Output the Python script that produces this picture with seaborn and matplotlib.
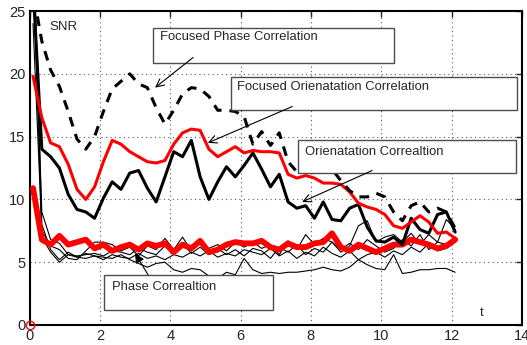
import matplotlib
matplotlib.use("Agg")
import matplotlib.pyplot as plt
import seaborn as sns
from matplotlib.patches import Rectangle

# sample times (s)
time = [0.1, 0.35, 0.6, 0.85, 1.1, 1.35, 1.6, 1.85, 2.1, 2.35, 2.6, 2.85, 3.1,
        3.35, 3.6, 3.85, 4.1, 4.35, 4.6, 4.85, 5.1, 5.35, 5.6, 5.85, 6.1,
        6.35, 6.6, 6.85, 7.1, 7.35, 7.6, 7.85, 8.1, 8.35, 8.6, 8.85, 9.1,
        9.35, 9.6, 9.85, 10.1, 10.35, 10.6, 10.85, 11.1, 11.35, 11.6, 11.85, 12.1]

# focused phase correlation (dashed)
focused_phase = [26.5, 22.6, 20.3, 19.0, 17.0, 14.8, 14.0, 15.0, 17.0, 18.8, 19.4, 20.0, 19.2,
                 18.9, 17.3, 16.0, 17.1, 18.4, 18.9, 18.8, 18.2, 17.1, 17.1, 17.0, 16.6,
                 14.4, 15.4, 14.3, 15.3, 13.0, 12.2, 12.4, 12.2, 12.6, 12.4, 11.5, 10.7,
                 10.2, 10.2, 10.5, 10.2, 9.0, 8.3, 9.5, 9.8, 9.0, 9.3, 9.0, 7.7]

# focused orientation correlation (red)
focused_orient = [19.8, 16.5, 14.5, 14.2, 12.8, 10.8, 10.0, 11.0, 13.0, 14.7, 14.4, 13.8, 13.4,
                  13.0, 12.9, 13.1, 14.4, 15.3, 15.6, 15.5, 14.0, 13.4, 13.8, 14.2, 13.7,
                  13.9, 13.8, 13.8, 13.7, 12.0, 11.7, 11.9, 11.7, 11.3, 11.3, 11.2, 10.6,
                  9.7, 9.4, 9.2, 8.8, 7.9, 7.7, 8.2, 8.7, 8.2, 7.3, 7.4, 6.9]

# orientation correlation (thick black)
orient = [27.0, 14.0, 13.4, 12.5, 10.4, 9.2, 9.0, 8.5, 10.1, 11.4, 10.8, 12.1, 12.3,
          10.9, 9.8, 11.8, 13.8, 13.4, 14.7, 11.8, 10.0, 11.4, 12.6, 11.8, 12.7,
          13.7, 12.4, 11.0, 12.0, 9.8, 9.3, 9.5, 8.5, 9.8, 8.4, 8.3, 9.3,
          9.6, 7.8, 6.7, 6.6, 7.0, 6.4, 8.5, 7.6, 7.3, 8.8, 9.0, 7.4]

# phase correlation (thick red)
phase_mean = [10.9, 6.8, 6.4, 7.1, 6.4, 6.6, 6.8, 6.1, 6.4, 5.9, 6.2, 6.4, 6.0,
              6.5, 6.3, 6.5, 5.8, 6.4, 6.1, 6.7, 5.8, 6.0, 6.4, 6.6, 6.5,
              6.5, 6.7, 6.2, 6.0, 6.5, 6.2, 6.2, 6.5, 6.6, 7.3, 6.2, 5.9,
              6.4, 6.1, 5.8, 6.1, 6.4, 6.4, 6.8, 6.6, 6.4, 6.1, 6.3, 6.8]

# individual phase correlation runs (thin black)
phase_runs = {
    "run1": [24.0, 7.5, 6.3, 6.0, 5.3, 5.2, 5.9, 6.6, 6.6, 6.4, 5.9, 6.2, 5.5,
             6.3, 6.0, 6.9, 6.0, 7.0, 5.9, 6.6, 6.1, 6.4, 5.9, 6.6, 6.2,
             6.6, 6.1, 6.4, 5.6, 6.7, 6.0, 7.2, 6.4, 6.9, 6.6, 5.8, 6.3,
             7.9, 8.3, 6.6, 7.0, 7.2, 6.6, 7.3, 6.4, 7.2, 6.6, 8.4, 7.6],
    "run2": [30.0, 9.0, 6.8, 6.5, 5.6, 5.5, 5.6, 5.7, 5.5, 5.9, 5.8, 5.6, 6.1,
             5.8, 5.6, 6.3, 5.9, 6.5, 5.7, 6.2, 5.6, 6.1, 5.6, 6.0, 5.5,
             6.1, 5.9, 5.3, 6.2, 5.8, 6.4, 5.6, 6.1, 5.8, 6.6, 6.0, 6.5,
             6.0, 6.8, 6.3, 5.8, 6.1, 6.8, 6.3, 7.2, 6.0, 6.6, 6.4, 7.0],
    "run3": [32.0, 8.0, 6.0, 5.2, 5.8, 5.4, 5.3, 5.5, 5.2, 5.6, 5.4, 5.3, 5.7,
             5.3, 5.5, 5.2, 5.6, 5.4, 5.8, 5.5, 5.9, 5.4, 5.7, 5.5, 6.0,
             5.8, 5.6, 6.1, 5.5, 5.9, 5.3, 5.8, 5.5, 6.2, 5.7, 5.4, 5.9,
             5.2, 5.6, 5.8, 5.4, 5.9, 5.6, 6.2, 5.8, 6.5, 5.9, 6.1, 6.6],
    "run4": [29.0, 7.0, 5.8, 5.0, 5.6, 5.4, 5.7, 5.5, 5.4, 5.3, 5.6, 5.2, 4.9,
             4.6, 4.9, 5.0, 4.4, 4.2, 4.5, 4.4, 3.9, 3.7, 4.2, 4.0, 5.3,
             4.4, 4.1, 4.2, 4.1, 4.2, 4.2, 4.3, 4.4, 4.6, 4.4, 4.3, 4.6,
             5.2, 4.8, 4.5, 4.4, 5.6, 4.1, 4.2, 4.4, 4.4, 4.5, 4.5, 4.2],
}

sns.set_style("white")
plt.rcParams["font.family"] = ["Liberation Sans", "DejaVu Sans"]

fig = plt.figure(figsize=(5.27, 3.45), dpi=100)
ax = fig.add_axes([0.056, 0.058, 0.9345, 0.91])

# thin runs first, everything else on top
for name, vals in phase_runs.items():
    sns.lineplot(x=time, y=vals, ax=ax, color="black", lw=0.8, zorder=2)

sns.lineplot(x=time, y=phase_mean, ax=ax, color="red", lw=4.2, zorder=3)
sns.lineplot(x=time, y=orient, ax=ax, color="black", lw=2.2, zorder=3)
sns.lineplot(x=time, y=focused_orient, ax=ax, color="red", lw=2.2, zorder=3)
sns.lineplot(x=time, y=focused_phase, ax=ax, color="black", lw=2.2,
             linestyle=(0, (3.2, 2.6)), zorder=3)

# origin marker
ax.plot([0], [0], "o", mfc="none", mec="red", ms=6, mew=1, clip_on=False, zorder=6)

ax.set_xlim(0, 14)
ax.set_ylim(0, 25)
ax.set_xticks(range(0, 15, 2))
ax.set_yticks(range(0, 26, 5))
ax.grid(True, linestyle=(0, (1, 3)), color="0.35", lw=0.8)
ax.tick_params(direction="in", top=True, right=True, length=4, width=1,
               labelsize=10.5, pad=3)
for sp in ax.spines.values():
    sp.set_color("black")
    sp.set_linewidth(1.5)
ax.set_xlabel("")
ax.set_ylabel("")

ax.text(0.58, 23.7, "SNR", fontsize=9.5, va="center", ha="left")
ax.text(12.8, 0.95, "t", fontsize=9.5, va="center", ha="left")

# annotation boxes: (x0, x1, y0, y1, text x, text y, label, arrow tail, arrow head, style)
boxes = [
    (3.51, 10.36, 20.9, 23.65, 3.71, 22.9, "Focused Phase Correlation",
     (4.65, 21.3), (3.57, 18.9), "->"),
    (5.73, 13.86, 17.1, 19.75, 5.9, 18.95, "Focused Orienatation Correlation",
     (7.47, 17.4), (5.07, 14.5), "->"),
    (7.63, 13.83, 12.1, 14.73, 7.83, 13.77, "Orienatation Correaltion",
     (9.74, 12.3), (7.75, 9.8), "->"),
    (2.12, 6.92, 1.19, 3.98, 2.35, 3.03, "Phase Correaltion",
     (3.37, 4.0), (3.0, 5.7), "-|>"),
]
for x0, x1, y0, y1, tx, ty, label, tail, head, style in boxes:
    ax.add_patch(Rectangle((x0, y0), x1 - x0, y1 - y0, facecolor="white",
                           edgecolor="0.3", lw=1.0, zorder=5))
    ax.text(tx, ty, label, fontsize=9.4, va="center", ha="left", zorder=6)
    ax.annotate("", xy=head, xytext=tail, zorder=6,
                arrowprops=dict(arrowstyle=style, color="black", lw=0.8,
                                mutation_scale=14, shrinkA=0, shrinkB=0))

fig.savefig("out.png", dpi=100)
